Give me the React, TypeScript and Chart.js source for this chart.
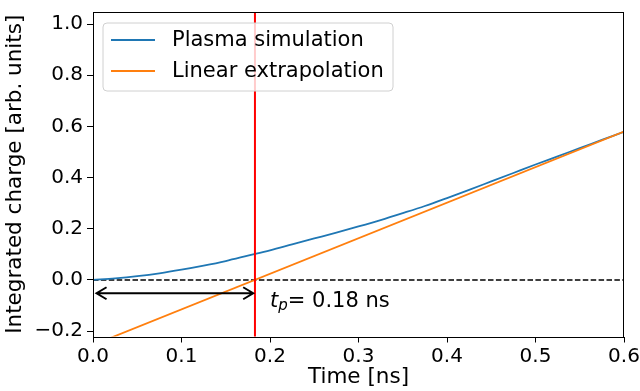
import React, { useEffect, useRef } from "react";
import { Chart, registerables } from "chart.js";
Chart.register(...registerables);

// ---- data ----
const timeNs = [0, 0.025, 0.05, 0.075, 0.1, 0.125, 0.15, 0.175, 0.2, 0.225, 0.25, 0.275, 0.3, 0.325, 0.35, 0.375, 0.4, 0.425, 0.45, 0.475, 0.5, 0.525, 0.55, 0.575, 0.6];
const plasmaCharge = [0, 0.0064, 0.015, 0.026, 0.04, 0.056, 0.074, 0.095, 0.116, 0.139, 0.162, 0.185, 0.209, 0.234, 0.261, 0.289, 0.32, 0.352, 0.385, 0.418, 0.451, 0.483, 0.515, 0.547, 0.579];
const extrapTime = [0, 0.6];
const extrapCharge = [-0.254, 0.58];
const zeroLineTime = [0, 0.6];
const zeroLineCharge = [0, 0];
const tpValue = 0.183;
const tpLabel = "= 0.18 ns";
const arrowFrom = 0.004;
const arrowTo = 0.181;
const arrowY = -0.052;
const labelX = 0.2;
const labelY = -0.104;
const xTicks = [0, 0.1, 0.2, 0.3, 0.4, 0.5, 0.6];
const yTicks = [-0.2, 0, 0.2, 0.4, 0.6, 0.8, 1.0];
const xMin = 0, xMax = 0.6, yMin = -0.221, yMax = 1.047;
const seriesNames = ["Plasma simulation", "Linear extrapolation"];

const BLUE = "#1f77b4";
const ORANGE = "#ff7f0e";
const FONT = "'DejaVu Sans', sans-serif";
const FS_TICK = 20;
const FS_TITLE = 21.5;
const FS_TEXT = 21;

const pts = (xs: number[], ys: number[]) => xs.map((x, i) => ({ x, y: ys[i] }));

const overlay = {
  id: "overlay",
  afterDatasetsDraw(chart: any) {
    const { ctx, chartArea: a, scales } = chart;
    const xs = scales.x, ys = scales.y;
    ctx.save();
    // frame (spines)
    ctx.strokeStyle = "#000";
    ctx.lineWidth = 1;
    ctx.strokeRect(Math.round(a.left) + 0.5, Math.round(a.top) + 0.5, Math.round(a.right - a.left) - 1, Math.round(a.bottom - a.top));
    // double arrow
    const x1 = xs.getPixelForValue(arrowFrom), x2 = xs.getPixelForValue(arrowTo), y = ys.getPixelForValue(arrowY);
    ctx.strokeStyle = "#000";
    ctx.lineWidth = 2;
    ctx.lineJoin = "miter";
    ctx.beginPath();
    ctx.moveTo(x1, y); ctx.lineTo(x2, y);
    ctx.moveTo(x1 + 10, y - 6); ctx.lineTo(x1, y); ctx.lineTo(x1 + 10, y + 6);
    ctx.moveTo(x2 - 10, y - 6); ctx.lineTo(x2, y); ctx.lineTo(x2 - 10, y + 6);
    ctx.stroke();
    // t_p label
    const lx = xs.getPixelForValue(labelX), ly = ys.getPixelForValue(labelY);
    ctx.fillStyle = "#000";
    ctx.textBaseline = "alphabetic";
    ctx.textAlign = "left";
    ctx.font = `italic ${FS_TEXT}px ${FONT}`;
    ctx.fillText("t", lx, ly);
    let cx = lx + ctx.measureText("t").width;
    ctx.font = `italic ${Math.round(FS_TEXT * 0.7)}px ${FONT}`;
    ctx.fillText("p", cx, ly + 3);
    cx += ctx.measureText("p").width;
    ctx.font = `${FS_TEXT}px ${FONT}`;
    ctx.fillText(tpLabel, cx, ly);
    // legend
    const bx = a.left + 10, by = a.top + 11, bw = 290, bh = 68, r = 4;
    ctx.beginPath();
    ctx.moveTo(bx + r, by);
    ctx.arcTo(bx + bw, by, bx + bw, by + bh, r);
    ctx.arcTo(bx + bw, by + bh, bx, by + bh, r);
    ctx.arcTo(bx, by + bh, bx, by, r);
    ctx.arcTo(bx, by, bx + bw, by, r);
    ctx.closePath();
    ctx.fillStyle = "rgba(255,255,255,0.8)";
    ctx.fill();
    ctx.strokeStyle = "#d0d0d0";
    ctx.lineWidth = 1;
    ctx.stroke();
    const colors = [BLUE, ORANGE];
    seriesNames.forEach((name, i) => {
      const yy = by + 17 + i * 31;
      ctx.strokeStyle = colors[i];
      ctx.lineWidth = 1.8;
      ctx.beginPath();
      ctx.moveTo(bx + 8, yy); ctx.lineTo(bx + 52, yy);
      ctx.stroke();
      ctx.fillStyle = "#000";
      ctx.font = `${FS_TEXT}px ${FONT}`;
      ctx.textBaseline = "middle";
      ctx.fillText(name, bx + 69, yy + 1);
    });
    ctx.restore();
  },
};

export default function App() {
  const ref = useRef<HTMLCanvasElement>(null);
  useEffect(() => {
    document.body.style.margin = "0";
    const chart = new Chart(ref.current!, {
      type: "scatter",
      data: {
        datasets: [
          { label: "tp", data: [{ x: tpValue, y: yMin - 1 }, { x: tpValue, y: yMax + 1 }], showLine: true, borderColor: "#ff0000", borderWidth: 2, pointRadius: 0, order: 0 },
          { label: seriesNames[1], data: pts(extrapTime, extrapCharge), showLine: true, borderColor: ORANGE, borderWidth: 1.8, pointRadius: 0, order: 1 },
          { label: seriesNames[0], data: pts(timeNs, plasmaCharge), showLine: true, borderColor: BLUE, borderWidth: 1.8, pointRadius: 0, cubicInterpolationMode: "monotone", order: 2 },
          { label: "zero", data: pts(zeroLineTime, zeroLineCharge), showLine: true, borderColor: "#000", borderWidth: 1.6, borderDash: [5.5, 2.4], pointRadius: 0, order: 3 },
        ] as any,
      },
      options: {
        animation: false,
        responsive: false,
        maintainAspectRatio: false,
        layout: { padding: { top: 12, right: 16, left: 0, bottom: 0 } },
        plugins: { legend: { display: false }, tooltip: { enabled: false } },
        scales: {
          x: {
            type: "linear",
            min: xMin,
            max: xMax,
            afterBuildTicks: (s: any) => { s.ticks = xTicks.map((v) => ({ value: v })); },
            afterFit: (s: any) => { s.height = 54.5; s.paddingLeft = 0; s.paddingRight = 0; },
            ticks: { font: { family: FONT, size: FS_TICK }, color: "#000", padding: 2, maxRotation: 0, callback: (v: any) => Number(v).toFixed(1) },
            grid: { drawOnChartArea: false, drawTicks: true, tickLength: 6, color: "#000" },
            border: { display: false },
            title: { display: true, text: "Time [ns]", font: { family: FONT, size: FS_TITLE }, color: "#000", padding: { top: 0, bottom: 1 } },
          },
          y: {
            type: "linear",
            min: yMin,
            max: yMax,
            afterBuildTicks: (s: any) => { s.ticks = yTicks.map((v) => ({ value: v })); },
            afterFit: (s: any) => { s.width = 93; s.paddingTop = 0; s.paddingBottom = 0; },
            ticks: { font: { family: FONT, size: FS_TICK }, color: "#000", padding: 4, callback: (v: any) => Number(v).toFixed(1).replace("-", "\u2212") },
            grid: { drawOnChartArea: false, drawTicks: true, tickLength: 6, color: "#000" },
            border: { display: false },
            title: { display: true, text: "Integrated charge [arb. units]", font: { family: FONT, size: FS_TITLE }, color: "#000", padding: { top: 3, bottom: 0 } },
          },
        },
      },
      plugins: [overlay],
    });
    return () => chart.destroy();
  }, []);
  return (
    <div style={{ position: "absolute", left: 0, top: 0, width: 640, height: 391, background: "#fff" }}>
      <canvas ref={ref} width={640} height={391} style={{ width: 640, height: 391 }} />
    </div>
  );
}
